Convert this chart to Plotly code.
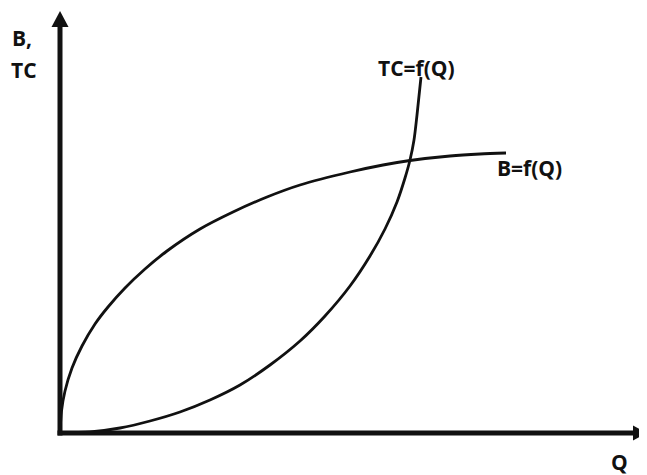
import plotly.graph_objects as go

# Quantity (Q) and value readings, origin at the axes corner
b_q = [0, 1.5, 5, 12, 22, 35, 48, 65, 85, 107, 140, 173, 207, 240, 290, 323, 350, 390, 420, 446]
b_v = [0, 22, 42, 65, 87, 109, 126, 145, 164, 182, 204, 221, 236, 248, 261, 268, 272.5, 277, 279, 280]

tc_q = [0, 30, 60, 90, 120, 150, 180, 210, 240, 265, 290, 310, 325, 337, 345, 350, 354, 357, 361]
tc_v = [0, 1, 5, 12, 21, 33, 48, 68, 92, 117, 147, 177, 204, 231, 255, 273, 293, 318, 356]

labels = {"b": "B=f(Q)", "tc": "TC=f(Q)", "x": "Q", "y1": "B,", "y2": "TC"}

fig = go.Figure()
line_style = dict(color="#111111", width=2.8, shape="spline", smoothing=0.8)
fig.add_trace(go.Scatter(x=b_q, y=b_v, mode="lines", line=line_style, hoverinfo="skip"))
fig.add_trace(go.Scatter(x=tc_q, y=tc_v, mode="lines", line=line_style, hoverinfo="skip"))

shapes = [
    dict(type="line", x0=0, y0=-2.5, x1=0, y1=408, line=dict(color="#111111", width=5)),
    dict(type="path", path="M -8.5 406 L 8.5 406 L 0 422 Z", fillcolor="#111111", line=dict(width=0)),
    dict(type="line", x0=-2.5, y0=0, x1=575, y1=0, line=dict(color="#111111", width=5)),
    dict(type="path", path="M 573 -7.5 L 573 7.5 L 587 0 Z", fillcolor="#111111", line=dict(width=0)),
]

font = dict(family="Open Sans", size=21, color="#111111")
ann = [
    dict(x=316, y=365, text="<b>%s</b>" % labels["tc"], xanchor="left", yanchor="middle"),
    dict(x=435, y=265, text="<b>%s</b>" % labels["b"], xanchor="left", yanchor="middle"),
    dict(x=549, y=-29, text="<b>%s</b>" % labels["x"], xanchor="left", yanchor="middle"),
    dict(x=-50, y=395, text="<b>%s</b>" % labels["y1"], xanchor="left", yanchor="middle"),
    dict(x=-51, y=363, text="<b>%s</b>" % labels["y2"], xanchor="left", yanchor="middle"),
]
for a in ann:
    a.update(xref="x", yref="y", showarrow=False, font=font)

# the page body has an 8px margin, so the data window is shifted by 8px
fig.update_layout(
    width=647, height=475,
    margin=dict(l=0, r=0, t=0, b=0),
    paper_bgcolor="white", plot_bgcolor="white",
    showlegend=False,
    xaxis=dict(range=[-52, 595], visible=False, fixedrange=True),
    yaxis=dict(range=[-50, 425], visible=False, fixedrange=True),
    shapes=shapes,
    annotations=ann,
)

fig.write_html("out.html")
